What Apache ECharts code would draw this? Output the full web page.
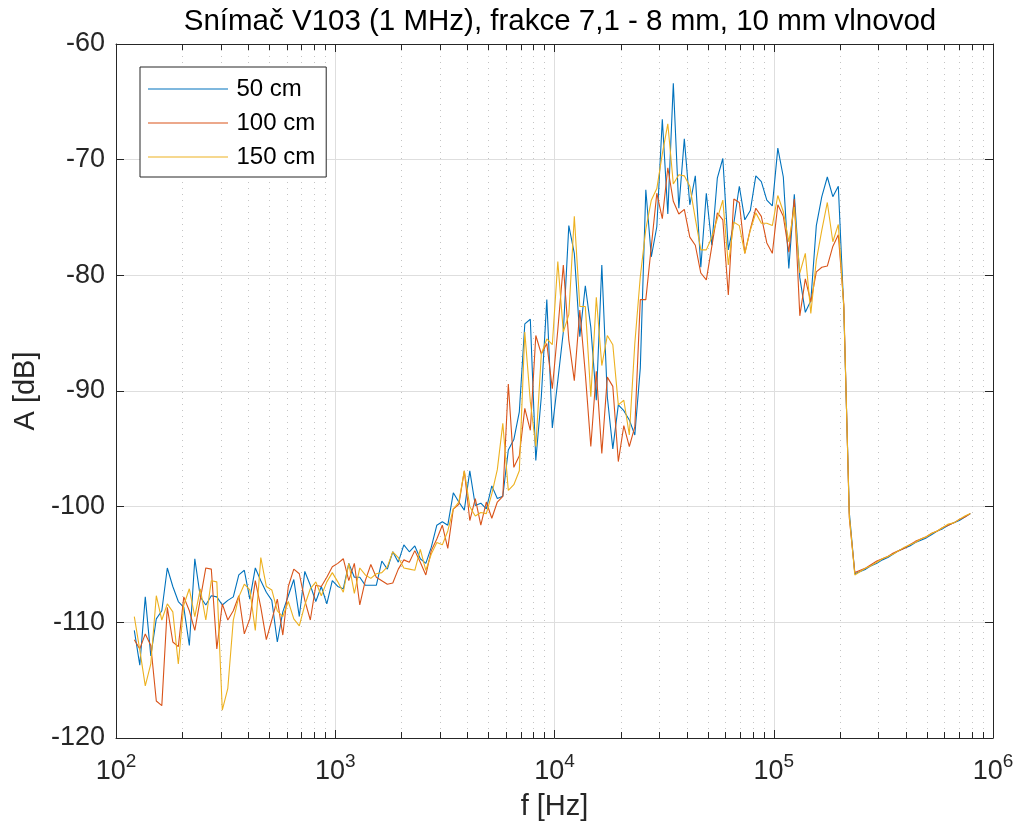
<!DOCTYPE html>
<html><head><meta charset="utf-8">
<script src="https://cdn.jsdelivr.net/npm/echarts@6/dist/echarts.min.js"></script>
<style>html,body{margin:0;padding:0;background:#fff}#c{width:1021px;height:832px}</style>
</head><body><div id="c"></div>
<script>
const freq = [
121.2,128.4,136.0,144.1,152.7,161.8,171.4,181.6,192.4,203.8,
216.0,228.8,242.4,256.8,272.1,288.3,305.4,323.6,342.8,363.2,
384.8,407.7,431.9,457.6,484.8,513.6,544.2,576.5,610.8,647.1,
685.6,726.4,769.6,815.3,863.8,915.2,969.6,1027,1088,1153,
1222,1294,1371,1453,1539,1631,1728,1830,1939,2055,
2177,2306,2443,2589,2742,2906,3078,3261,3455,3661,
3878,4109,4353,4612,4887,5177,5485,5811,6157,6523,
6911,7321,7757,8218,8707,9224,9773,10354,10970,11622,
12313,13045,13821,14643,15514,16436,17413,18449,19546,20708,
21940,23244,24626,26091,27642,29286,31027,32872,34827,36898,
39092,41416,43879,46488,49252,52181,55284,58571,62054,65744,
69654,73796,78184,82833,87758,92977,98506,104363,110569,117144,
124109,131489,139308,147591,156368,165666,175517,185954,197011,208726,
221138,234287,248218,262977,278615,295182,312735,331331,351034,371907,
394022,417452,442275,468574,496435,525955,557230,590364,625470,662662,
702068,743815,788044];

const s50 = [
-110.7,-113.7,-107.8,-112.9,-109.7,-109.0,-105.3,-106.9,-108.2,-108.7,
-112.0,-104.5,-107.8,-108.5,-107.7,-107.8,-108.5,-108.1,-107.8,-105.9,
-105.5,-108.0,-105.3,-106.4,-107.4,-108.1,-111.7,-109.1,-107.7,-106.3,
-109.5,-105.6,-106.8,-108.2,-106.9,-108.4,-106.4,-106.9,-107.1,-104.9,
-106.1,-106.1,-106.8,-106.8,-106.8,-104.7,-105.4,-103.9,-104.8,-103.3,
-103.9,-103.4,-104.5,-104.9,-103.5,-101.6,-101.3,-101.6,-98.8,-99.6,
-100.3,-96.9,-99.9,-99.7,-100.2,-98.2,-99.3,-99.1,-95.1,-94.2,
-91.8,-84.2,-83.8,-96.0,-90.5,-82.1,-93.2,-89.1,-84.9,-75.7,
-78.1,-85.3,-80.9,-84.5,-90.8,-79.1,-90.5,-95.0,-91.2,-91.7,
-92.5,-93.8,-88.0,-72.6,-78.4,-75.8,-66.5,-74.7,-63.4,-74.2,
-68.2,-73.9,-71.4,-79.3,-72.9,-77.4,-71.6,-69.9,-77.8,-75.5,
-72.3,-75.2,-74.4,-71.4,-71.9,-73.5,-74.0,-69.0,-71.5,-79.4,
-73.0,-80.2,-83.2,-82.2,-75.7,-73.2,-71.5,-73.2,-72.3,-83.0,
-100.5,-105.8,-105.6,-105.4,-105.1,-104.9,-104.6,-104.4,-104.1,-103.8,
-103.6,-103.4,-103.1,-102.9,-102.7,-102.4,-102.1,-101.9,-101.6,-101.4,
-101.2,-100.9,-100.6];

const s100 = [
-111.5,-112.3,-111.0,-112.0,-116.8,-117.2,-108.7,-111.7,-112.1,-107.8,
-109.0,-110.7,-108.0,-105.3,-105.4,-112.3,-108.4,-109.8,-109.0,-107.7,
-111.0,-109.7,-106.4,-108.7,-111.5,-109.8,-108.0,-111.1,-106.9,-105.4,
-105.8,-108.1,-109.8,-106.8,-106.9,-106.1,-105.2,-104.9,-104.5,-106.4,
-104.9,-108.5,-106.4,-105.0,-106.1,-106.4,-106.7,-106.6,-105.4,-104.6,
-104.8,-103.8,-104.8,-105.9,-103.8,-102.8,-101.6,-103.6,-100.2,-99.8,
-96.9,-101.2,-99.3,-101.6,-99.6,-101.0,-99.6,-99.1,-89.4,-96.6,
-95.6,-91.5,-93.4,-85.2,-86.8,-85.9,-89.8,-84.7,-79.1,-85.6,
-89.1,-83.0,-88.5,-94.8,-88.3,-95.4,-88.8,-89.6,-96.1,-93.0,
-94.8,-93.1,-82.1,-82.1,-77.5,-72.9,-75.1,-70.7,-73.6,-74.7,
-74.3,-76.7,-77.4,-79.8,-80.4,-77.5,-74.6,-75.2,-81.7,-73.4,
-73.7,-78.1,-76.0,-74.2,-74.9,-77.2,-78.1,-73.9,-74.9,-78.0,
-73.4,-83.5,-80.3,-82.3,-79.7,-79.3,-79.2,-77.5,-76.5,-82.5,
-101.0,-105.7,-105.5,-105.3,-105.0,-104.7,-104.5,-104.3,-104.0,-103.8,
-103.6,-103.3,-103.0,-102.8,-102.6,-102.3,-102.1,-101.8,-101.6,-101.4,
-101.1,-100.9,-100.6];

const s150 = [
-109.5,-112.4,-115.5,-113.6,-107.7,-109.8,-108.4,-109.1,-113.6,-108.5,
-107.1,-109.5,-107.1,-109.8,-106.4,-106.5,-117.6,-115.7,-109.8,-107.8,
-106.7,-107.2,-110.7,-104.4,-106.9,-107.2,-109.0,-109.5,-108.2,-109.7,
-110.3,-108.5,-107.1,-106.5,-107.7,-106.5,-105.7,-106.5,-107.4,-104.9,
-107.5,-105.3,-105.9,-106.2,-105.8,-105.7,-105.2,-103.9,-104.4,-105.3,
-105.4,-105.5,-103.7,-105.5,-104.1,-103.1,-103.3,-102.1,-100.2,-99.6,
-96.9,-100.0,-100.8,-100.5,-100.6,-98.9,-96.8,-92.8,-98.6,-98.1,
-96.9,-84.9,-90.9,-94.8,-86.8,-85.5,-86.0,-78.8,-84.9,-83.4,
-74.9,-82.7,-82.7,-90.5,-81.9,-87.8,-85.2,-86.0,-91.2,-90.8,
-93.8,-85.9,-80.1,-76.0,-73.5,-72.5,-69.5,-66.9,-72.1,-71.3,
-71.4,-72.3,-75.1,-77.8,-77.8,-76.7,-75.1,-73.5,-79.1,-75.4,
-75.7,-78.1,-76.1,-74.6,-75.5,-75.5,-75.7,-73.1,-74.5,-77.1,
-74.1,-79.8,-78.1,-83.3,-78.7,-76.1,-73.7,-77.1,-75.6,-82.8,
-100.8,-105.9,-105.6,-105.3,-105.1,-104.8,-104.5,-104.3,-104.1,-103.8,
-103.5,-103.3,-103.1,-102.8,-102.6,-102.3,-102.1,-101.8,-101.5,-101.4,
-101.1,-100.8,-100.6];

const seriesNames = ['50 cm', '100 cm', '150 cm'];
const seriesColors = ['#0072BD', '#D95319', '#EDB120'];
const minorFreq = [
200,300,400,500,600,700,800,900,
2000,3000,4000,5000,6000,7000,8000,9000,
20000,30000,40000,50000,60000,70000,80000,90000,
200000,300000,400000,500000,600000,700000,800000,900000];

const FONT = '"Liberation Sans", Arial, Helvetica, sans-serif';
const AX = '#262626';
const chart = echarts.init(document.getElementById('c'), null, {renderer: 'canvas'});
const pairs = arr => freq.map((f, i) => [f, arr[i]]);
const allSeries = [s50, s100, s150];

const lineSeries = allSeries.map((arr, k) => ({
  type: 'line', name: seriesNames[k], data: pairs(arr), symbol: 'none', showSymbol: false,
  lineStyle: {color: seriesColors[k], width: 1.1}, itemStyle: {color: seriesColors[k]},
  z: 3 + k, animation: false
}));

const minorSeries = {
  type: 'custom', name: 'minor', silent: true, z: 1,
  data: minorFreq.map(f => [f, -120]),
  encode: {x: 0, y: 1},
  renderItem: function (params, api) {
    const f = api.value(0);
    const pTop = api.coord([f, -60]);
    const pBot = api.coord([f, -120]);
    const x = Math.round(pTop[0]) + 0.5;
    return {type: 'group', children: [
      {type: 'line', shape: {x1: x, y1: pTop[1], x2: x, y2: pBot[1]}, style: {stroke: '#c4c4c4', lineWidth: 1, lineDash: [1, 5]}},
      {type: 'line', shape: {x1: x, y1: pBot[1], x2: x, y2: pBot[1] - 6}, style: {stroke: AX, lineWidth: 1}},
      {type: 'line', shape: {x1: x, y1: pTop[1], x2: x, y2: pTop[1] + 6}, style: {stroke: AX, lineWidth: 1}}
    ]};
  }
};

const baseX = {type: 'log', logBase: 10, min: 100, max: 1000000};
const baseY = {type: 'value', min: -120, max: -60, interval: 10};

const option = {
  animation: false,
  backgroundColor: '#fff',
  title: {
    text: 'Snímač V103 (1 MHz), frakce 7,1 - 8 mm, 10 mm vlnovod',
    left: 555, textAlign: 'center', top: 2,
    textStyle: {fontFamily: FONT, fontSize: 29.5, fontWeight: 'normal', color: '#000'}
  },
  grid: {left: 116, right: 28, top: 44, bottom: 94, containLabel: false},
  legend: {
    data: seriesNames, orient: 'vertical', left: 140, top: 67,
    icon: 'path://M0,0 H80 V1 H0 Z',
    itemWidth: 81, itemHeight: 1, itemGap: 10, padding: [10, 11, 8, 8],
    borderColor: AX, borderWidth: 1, backgroundColor: '#fff',
    textStyle: {fontFamily: FONT, fontSize: 24, color: '#000', lineHeight: 24, padding: [0, 0, 0, 3]}
  },
  xAxis: [
    Object.assign({}, baseX, {
      position: 'bottom',
      axisLine: {show: true, onZero: false, lineStyle: {color: AX, width: 1}},
      axisTick: {show: true, inside: true, length: 8, lineStyle: {color: AX}},
      axisLabel: {
        margin: 14, color: AX,
        formatter: v => '{b|10}{s|' + Math.round(Math.log10(v)) + '}',
        rich: {
          b: {fontFamily: FONT, fontSize: 27, color: AX, verticalAlign: 'bottom'},
          s: {fontFamily: FONT, fontSize: 19, color: AX, verticalAlign: 'bottom', padding: [0, 0, 14, 0]}
        }
      },
      splitLine: {show: true, lineStyle: {color: '#dedede', width: 1}},
      name: 'f [Hz]', nameLocation: 'middle', nameGap: 54,
      nameTextStyle: {fontFamily: FONT, fontSize: 29, color: AX}
    }),
    Object.assign({}, baseX, {
      position: 'top',
      axisLine: {show: true, onZero: false, lineStyle: {color: AX, width: 1}},
      axisTick: {show: true, inside: true, length: 8, lineStyle: {color: AX}},
      axisLabel: {show: false}, splitLine: {show: false}
    })
  ],
  yAxis: [
    Object.assign({}, baseY, {
      position: 'left',
      axisLine: {show: true, onZero: false, lineStyle: {color: AX, width: 1}},
      axisTick: {show: true, inside: true, length: 8, lineStyle: {color: AX}},
      axisLabel: {margin: 11, fontFamily: FONT, fontSize: 27, color: AX},
      splitLine: {show: true, lineStyle: {color: '#dedede', width: 1}},
      name: 'A [dB]', nameLocation: 'middle', nameGap: 72,
      nameTextStyle: {fontFamily: FONT, fontSize: 29, color: AX}
    }),
    Object.assign({}, baseY, {
      position: 'right',
      axisLine: {show: true, onZero: false, lineStyle: {color: AX, width: 1}},
      axisTick: {show: true, inside: true, length: 8, lineStyle: {color: AX}},
      axisLabel: {show: false}, splitLine: {show: false}
    })
  ],
  series: [minorSeries].concat(lineSeries)
};
chart.setOption(option);
</script>
</body></html>
